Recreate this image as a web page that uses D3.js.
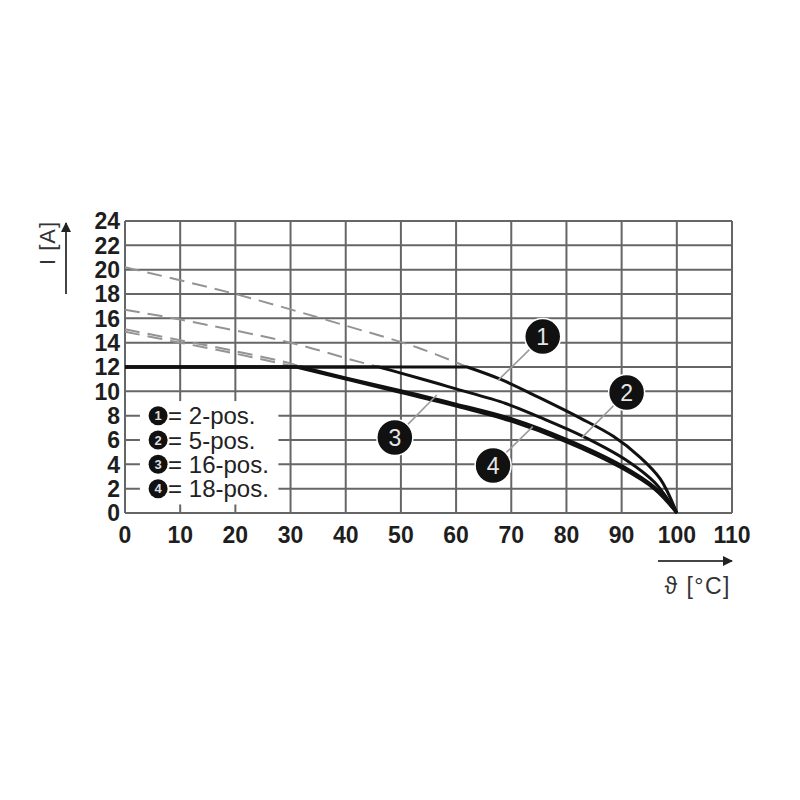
<!DOCTYPE html>
<html>
<head>
<meta charset="utf-8">
<script src="https://cdn.jsdelivr.net/npm/d3@7"></script>
<style>
  body { margin: 0; background: #fff; }
  svg { display: block; }
</style>
</head>
<body>
<svg id="chart" width="800" height="800"></svg>
<script>
// tick labels
const xTicks = [0, 10, 20, 30, 40, 50, 60, 70, 80, 90, 100, 110];
const yTicks = [0, 2, 4, 6, 8, 10, 12, 14, 16, 18, 20, 22, 24];

const seriesNames = ["1", "2", "3", "4"];
const legendText = ["= 2-pos.", "= 5-pos.", "= 16-pos.", "= 18-pos."];

// extrapolated (dashed) part of each curve, [temp, current]
const dashed1 = [[0, 20.2], [20, 18.0], [40, 15.4], [53, 13.6], [62, 12]];
const dashed2 = [[0, 16.7], [10, 15.9], [30, 14.0], [41, 12.6], [46, 12]];
const dashed3 = [[0, 15.1], [10, 14.2], [20, 13.3], [30, 12.3], [32, 12]];
const dashed4 = [[0, 14.9], [10, 14.0], [20, 13.1], [29, 12.2], [31, 12]];

// derating curves (solid): flat at 12 A up to the knee, then falling to 0 at 100 °C
const curve1 = [[0, 12], [62, 12], [68, 11.0], [75, 9.5], [82.5, 7.8], [88.5, 6.3], [93.3, 4.6], [97, 2.8], [100, 0]];
const curve2 = [[0, 12], [46, 12], [50, 11.5], [57, 10.6], [60, 10.2], [69, 9.0], [75, 7.9], [83, 6.3], [91, 4.3], [96, 2.5], [100, 0]];
const curve3 = [[0, 12], [32, 12], [40, 11.1], [50, 10.05], [60, 8.95], [70, 7.75], [80, 6.05], [90, 3.9], [96, 2.1], [100, 0]];
const curve4 = [[0, 12], [31, 12], [40, 11.0], [50, 9.9], [60, 8.8], [70, 7.55], [80, 5.85], [90, 3.7], [96, 1.95], [100, 0]];

// callout bubbles: bubble centre and where the leader touches the curve
const bubbleAt = [[75.7, 14.5], [90.9, 9.9], [48.9, 6.2], [66.7, 3.9]];
const leaderTo = [[67.6, 10.9], [82.8, 6.2], [56.5, 9.7], [73.9, 7.1]];

const svg = d3.select("#chart");
const x = d3.scaleLinear().domain([0, 110]).range([125, 732]);
const y = d3.scaleLinear().domain([0, 24]).range([513, 221]);
const gridColor = "#666";
const font = "'Liberation Sans', Arial, sans-serif";

// grid
const grid = svg.append("g").attr("stroke", gridColor).attr("stroke-width", 2);
grid.selectAll("line.v").data(xTicks).join("line")
    .attr("class", "v")
    .attr("x1", d => x(d)).attr("x2", d => x(d))
    .attr("y1", y(0)).attr("y2", y(24));
grid.selectAll("line.h").data(yTicks).join("line")
    .attr("class", "h")
    .attr("x1", x(0)).attr("x2", x(110))
    .attr("y1", d => y(d)).attr("y2", d => y(d));

// tick labels
svg.append("g")
    .style("font", `bold 23px ${font}`)
    .attr("fill", "#1e1e1e")
    .selectAll("text").data(yTicks).join("text")
    .attr("x", x(0) - 5).attr("y", d => y(d))
    .attr("dy", "0.36em").attr("text-anchor", "end")
    .text(d => d);
svg.append("g")
    .style("font", `bold 23px ${font}`)
    .attr("fill", "#1e1e1e")
    .selectAll("text").data(xTicks).join("text")
    .attr("x", d => x(d)).attr("y", y(0) + 30)
    .attr("text-anchor", "middle")
    .text(d => d);

// flat first segment stays straight, the rest is smoothed
const smooth = d3.line().x(d => x(d[0])).y(d => y(d[1])).curve(d3.curveCatmullRom.alpha(0.5));
function curvePath(pts) {
    return `M${x(pts[0][0])},${y(pts[0][1])}L` + smooth(pts.slice(1)).slice(1);
}

// dashed extrapolations
svg.append("g")
    .attr("fill", "none").attr("stroke", "#949494")
    .attr("stroke-width", 2).attr("stroke-dasharray", "15,8")
    .selectAll("path").data([dashed1, dashed2, dashed3, dashed4]).join("path")
    .attr("d", smooth);

// solid curves
svg.append("g")
    .attr("fill", "none").attr("stroke", "#111")
    .attr("stroke-width", 3)
    .selectAll("path").data([curve1, curve2, curve3, curve4]).join("path")
    .attr("d", curvePath);

// legend (white box hides grid)
svg.append("rect")
    .attr("x", x(2.7)).attr("y", y(9.2))
    .attr("width", x(27.8) - x(2.7)).attr("height", y(0.7) - y(9.2))
    .attr("fill", "#fff");
const legend = svg.append("g").selectAll("g").data(legendText).join("g")
    .attr("transform", (d, i) => `translate(${x(6)},${y(8 - 2 * i)})`);
legend.append("circle").attr("r", 9.5).attr("fill", "#111");
legend.append("text")
    .attr("text-anchor", "middle").attr("dy", "0.36em")
    .attr("fill", "#ddd").style("font", `bold 13px ${font}`)
    .text((d, i) => seriesNames[i]);
legend.append("text")
    .attr("x", 10).attr("dy", "0.36em")
    .attr("fill", "#222").style("font", `24px ${font}`)
    .text(d => d);

// callouts
svg.append("g")
    .attr("stroke", "#9a9a9a").attr("stroke-width", 1.6)
    .selectAll("line").data(bubbleAt).join("line")
    .attr("x1", d => x(d[0])).attr("y1", d => y(d[1]))
    .attr("x2", (d, i) => x(leaderTo[i][0])).attr("y2", (d, i) => y(leaderTo[i][1]));
const bubbles = svg.append("g").selectAll("g").data(bubbleAt).join("g")
    .attr("transform", d => `translate(${x(d[0])},${y(d[1])})`);
bubbles.append("circle").attr("r", 18).attr("fill", "#111")
    .attr("stroke", "#fff").attr("stroke-width", 1.5);
bubbles.append("text")
    .attr("text-anchor", "middle").attr("dy", "0.36em")
    .attr("fill", "#e6e6e6").style("font", `23px ${font}`)
    .text((d, i) => seriesNames[i]);

// axis titles with arrows
svg.append("defs").append("marker")
    .attr("id", "arrow").attr("viewBox", "0 0 10 10")
    .attr("refX", 9).attr("refY", 5)
    .attr("markerWidth", 7).attr("markerHeight", 5)
    .attr("markerUnits", "strokeWidth")
    .attr("orient", "auto")
    .append("path").attr("d", "M0,0L10,5L0,10Z").attr("fill", "#222");

svg.append("line")
    .attr("x1", 66).attr("y1", 294).attr("x2", 66).attr("y2", 223)
    .attr("stroke", "#444").attr("stroke-width", 2)
    .attr("marker-end", "url(#arrow)");
svg.append("text")
    .attr("transform", "translate(55,243) rotate(-90)")
    .attr("text-anchor", "middle")
    .attr("fill", "#333").style("font", `22px ${font}`)
    .style("letter-spacing", "1px")
    .text("I [A]");

svg.append("line")
    .attr("x1", 658).attr("y1", 561).attr("x2", 732).attr("y2", 561)
    .attr("stroke", "#444").attr("stroke-width", 2)
    .attr("marker-end", "url(#arrow)");
svg.append("text")
    .attr("x", 731).attr("y", 594)
    .attr("text-anchor", "end")
    .attr("fill", "#333").style("font", `23px ${font}`)
    .style("letter-spacing", "1.5px")
    .text("ϑ [°C]");
</script>
</body>
</html>
